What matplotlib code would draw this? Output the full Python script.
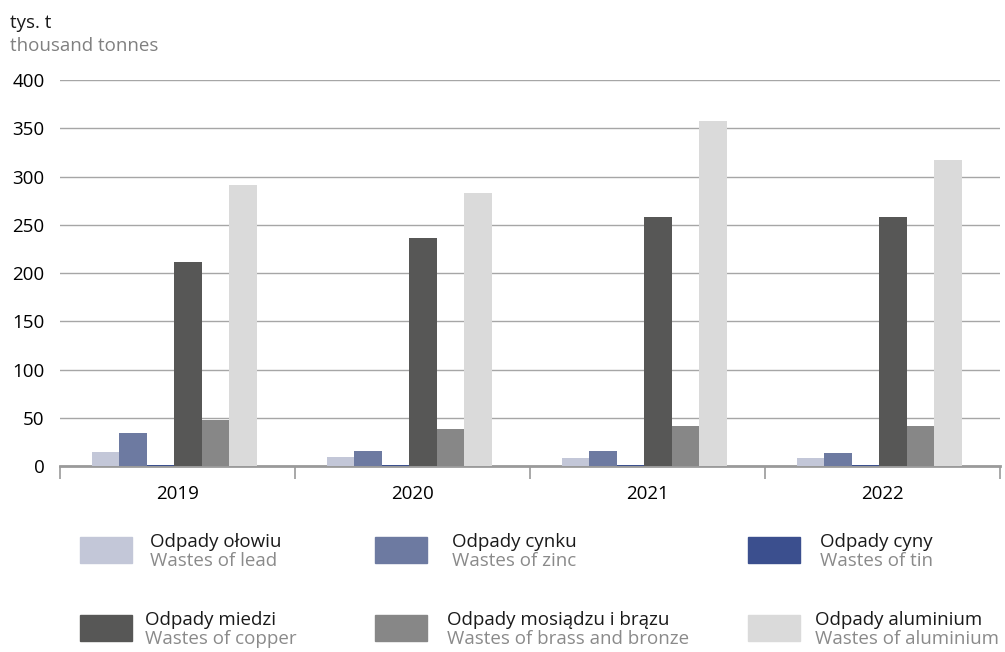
import numpy as np
import matplotlib.pyplot as plt
from matplotlib.patches import Rectangle

plt.rcParams['font.family'] = ['Open Sans', 'DejaVu Sans']

years = ['2019', '2020', '2021', '2022']
names_pl = ['Odpady ołowiu', 'Odpady cynku', 'Odpady cyny',
            'Odpady miedzi', 'Odpady mosiądzu i brązu', 'Odpady aluminium']
names_en = ['Wastes of lead', 'Wastes of zinc', 'Wastes of tin',
            'Wastes of copper', 'Wastes of brass and bronze', 'Wastes of aluminium']
lead = [14.5, 9, 8, 8]
zinc = [34, 15.5, 15.5, 13.5]
tin = [1.2, 1.2, 1.2, 1.2]
copper = [212, 236, 258, 258]
brass = [47.5, 38, 41, 41]
aluminium = [291, 283, 358, 317]
series = [lead, zinc, tin, copper, brass, aluminium]
colors = ['#c3c7d8', '#6d7aa1', '#3b4f8e', '#575756', '#878787', '#dadada']

fig = plt.figure(figsize=(10.05, 6.52), dpi=100)
ax = fig.add_axes([0.0597, 0.2853, 0.9353, 0.5917])

x = np.arange(len(years))
w = 0.117
for i, vals in enumerate(series):
    ax.bar(x - 0.013 + (i - 2.5) * w, vals, w, color=colors[i], zorder=3)

ax.set_xlim(-0.5, 3.5)
ax.set_ylim(0, 400)
ax.set_yticks(range(0, 401, 50))
ax.yaxis.grid(True, color='#a6a6a6', linewidth=1, zorder=0)
for s in ['top', 'right', 'left']:
    ax.spines[s].set_visible(False)
ax.spines['bottom'].set_color('#9a9a9a')
ax.spines['bottom'].set_linewidth(2)
ax.spines['bottom'].set_zorder(2)
ax.tick_params(axis='y', length=0, labelsize=13.5, pad=11)
ax.set_xticks(x)
ax.set_xticklabels(years)
ax.tick_params(axis='x', which='major', length=0, labelsize=13.5, pad=14)
ax.set_xticks(np.arange(-0.5, 4, 1), minor=True)
ax.tick_params(axis='x', which='minor', length=9, width=1.2, color='#9a9a9a', direction='out')

fig.text(0.010, 0.965, 'tys. t', fontsize=13.5, color='#1a1a1a', va='center')
fig.text(0.010, 0.930, 'thousand tonnes', fontsize=13.5, color='#808080', va='center')

# legend
px = [80, 375, 748]
tx = [150, 452, 820]
py = [537, 615]
for i in range(6):
    r, c = divmod(i, 3)
    x0 = px[c] / 1005
    y0 = 1 - (py[r] + 26) / 652
    fig.add_artist(Rectangle((x0, y0), 52 / 1005, 26 / 652,
                             transform=fig.transFigure, color=colors[i]))
    tx0 = (tx[c] if r == 0 else tx[c] - 5) / 1005
    fig.text(tx0, 1 - (py[r] + 5) / 652, names_pl[i], fontsize=13.5,
             color='#1a1a1a', va='center')
    fig.text(tx0, 1 - (py[r] + 24) / 652, names_en[i], fontsize=13.5,
             color='#8a8a8a', va='center')

fig.savefig('out.png', dpi=100)
